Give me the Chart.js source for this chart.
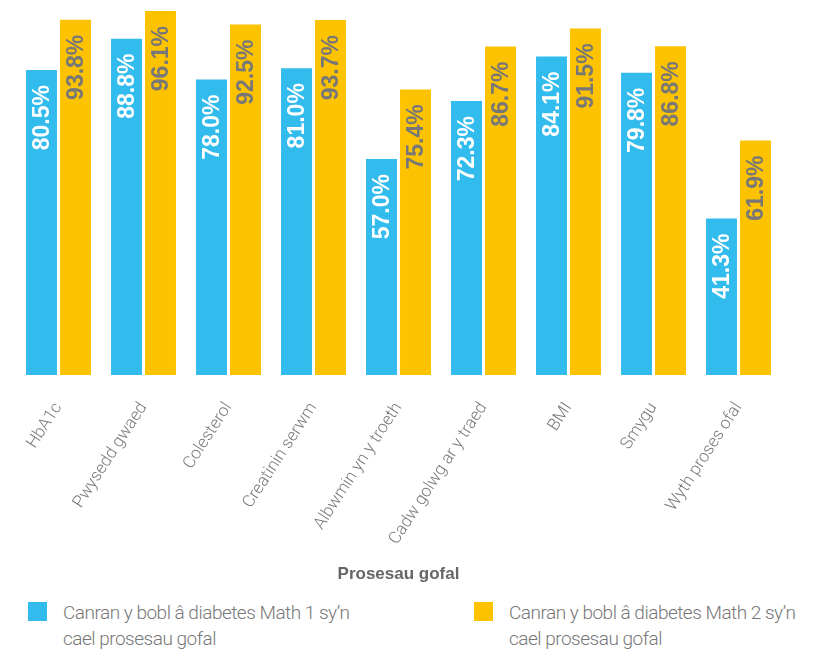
<!DOCTYPE html>
<html>
<head>
<meta charset="utf-8">
<script src="https://cdn.jsdelivr.net/npm/chart.js@4/dist/chart.umd.min.js"></script>
<style>
  body { margin: 0; background: #fff; }
  #wrap { position: relative; width: 832px; height: 590px; }
  #legend { position: absolute; top: 600px; left: 0; width: 832px; font-family: Roboto, "Liberation Sans", sans-serif; font-weight: 300; }
  .item { position: absolute; top: 0; color: #777; font-size: 19px; line-height: 26px; letter-spacing: -0.5px; }
  .box { position: absolute; left: 0; top: 2px; width: 19px; height: 19px; }
  .txt { position: absolute; left: 35px; top: 0px; width: 330px; }
</style>
</head>
<body>
<div id="wrap"><canvas id="chart"></canvas></div>
<div id="legend"></div>
<script>
// categories and values
const categories = ["HbA1c", "Pwysedd gwaed", "Colesterol", "Creatinin serwm", "Albwmin yn y troeth",
  "Cadw golwg ar y traed", "BMI", "Smygu", "Wyth proses ofal"];
const type1Values = [80.5, 88.8, 78.0, 81.0, 57.0, 72.3, 84.1, 79.8, 41.3];
const type2Values = [93.8, 96.1, 92.5, 93.7, 75.4, 86.7, 91.5, 86.8, 61.9];
const seriesNames = ["Canran y bobl â diabetes Math 1 sy’n cael prosesau gofal",
  "Canran y bobl â diabetes Math 2 sy’n cael prosesau gofal"];

const blue = "#32bbed";
const yellow = "#fdc300";

// draws the rotated % labels inside each bar
const barLabels = {
  id: "barLabels",
  afterDatasetsDraw(chart) {
    const ctx = chart.ctx;
    chart.data.datasets.forEach(function (ds, i) {
      const meta = chart.getDatasetMeta(i);
      meta.data.forEach(function (bar, j) {
        ctx.save();
        ctx.translate(bar.x, bar.y + 15);
        ctx.rotate(-Math.PI / 2);
        ctx.font = "bold 23px 'Liberation Sans', Arial, sans-serif";
        ctx.fillStyle = i === 0 ? "#ffffff" : "#777777";
        ctx.textAlign = "right";
        ctx.textBaseline = "middle";
        ctx.fillText(ds.data[j].toFixed(1) + "%", 0, 1);
        ctx.restore();
      });
    });
  }
};

const canvasRef = document.getElementById("chart");

let myChart = new Chart(canvasRef, {
  type: "bar",
  data: {
    labels: categories,
    datasets: [
      { label: seriesNames[0], data: type1Values, backgroundColor: blue },
      { label: seriesNames[1], data: type2Values, backgroundColor: yellow },
    ],
  },
  options: {
    responsive: true,
    maintainAspectRatio: false,
    animation: false,
    layout: { padding: { left: 16, right: 51, top: 0, bottom: 5 } },
    datasets: { bar: { categoryPercentage: 0.8, barPercentage: 0.91 } },
    plugins: { legend: { display: false }, tooltip: { enabled: false } },
    scales: {
      y: { display: false, min: 0, max: 99 },
      x: {
        grid: { display: false },
        border: { display: false },
        ticks: {
          minRotation: 57, maxRotation: 57, padding: 16,
          color: "#7a7a7a",
          font: { family: "Roboto, 'Liberation Sans', sans-serif", weight: "300", size: 17 },
        },
        title: {
          display: true, text: "Prosesau gofal", color: "#666",
          font: { family: "'Liberation Sans', Arial, sans-serif", weight: "bold", size: 17 },
          padding: { top: 0, bottom: 0 },
        },
      },
    },
  },
  plugins: [barLabels],
});

// legend underneath, text wraps like the original
const legend = document.getElementById("legend");
[[28, blue], [474, yellow]].forEach(function (pos, i) {
  const item = document.createElement("div");
  item.className = "item";
  item.style.left = pos[0] + "px";
  item.innerHTML = '<div class="box" style="background:' + pos[1] + '"></div><div class="txt">' +
    seriesNames[i].replace(" cael", "<br>cael") + "</div>";
  legend.appendChild(item);
});
</script>
</body>
</html>
